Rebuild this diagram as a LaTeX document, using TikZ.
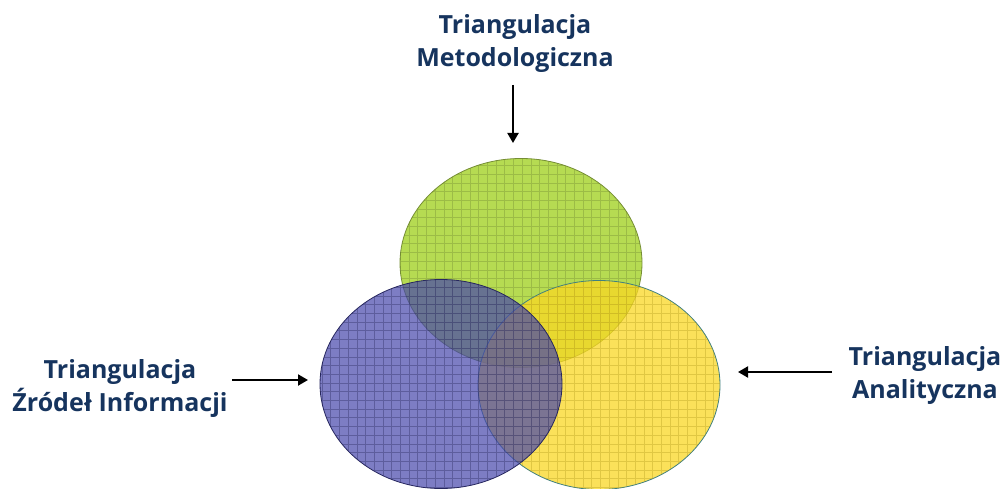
\documentclass[tikz,border=0pt]{standalone}
\usepackage{fontspec}
\setmainfont{Open Sans}
\usetikzlibrary{shapes.geometric,arrows.meta}
\definecolor{navy}{RGB}{22,52,94}
\definecolor{gfill}{RGB}{182,219,82}
\definecolor{bfill}{RGB}{70,70,172}
\definecolor{yfill}{RGB}{250,216,36}
\tikzset{
  lbl/.style={text=navy,font=\fontsize{25}{33}\selectfont\bfseries,align=center,inner sep=0pt},
  blob/.style={ellipse,draw,line width=0.8pt,inner sep=0pt,minimum width=242pt,minimum height=209pt},
  gridlines/.style={line width=0.35pt,opacity=0.35},
  arr/.style={-{Triangle[length=10pt,width=11pt]},line width=2pt,black}
}
\begin{document}
\begin{tikzpicture}[x=1pt,y=-1pt]
\useasboundingbox (0,0) rectangle (1003,489);
\fill[white] (0,0) rectangle (1003,489);
\node[blob,fill=gfill,draw=gfill!65!black] (green) at (521,263) {};
\begin{scope}
\clip (521,263) ellipse [x radius=121pt,y radius=104.5pt];
\draw[gridlines,draw=gfill!60!black,step=8.7pt] (390,150) grid (650,380);
\end{scope}
\node[blob,fill=yfill,fill opacity=0.75,draw=teal!50!gray] (yellow) at (599,385) {};
\begin{scope}
\clip (599,385) ellipse [x radius=121pt,y radius=104.5pt];
\draw[gridlines,draw=yfill!70!black,step=8.7pt] (470,270) grid (730,500);
\end{scope}
\node[blob,fill=bfill,fill opacity=0.7,draw=bfill!55!black] (blue) at (441,384) {};
\begin{scope}
\clip (441,384) ellipse [x radius=121pt,y radius=104.5pt];
\draw[gridlines,draw=bfill!50!black,step=8.7pt] (310,270) grid (570,500);
\end{scope}
\node[lbl] (top) at (515,44) {Triangulacja\\Metodologiczna};
\node[lbl] (left) at (120,389) {Triangulacja\\Źródeł Informacji};
\node[lbl] (right) at (925,376) {Triangulacja\\Analityczna};
\coordinate (ta) at (513,85);
\coordinate (tb) at (513,143);
\coordinate (la) at (232,380);
\coordinate (lb) at (308,380);
\coordinate (ra) at (832,372);
\coordinate (rb) at (738,372);
\draw[arr] (ta) -- (tb);
\draw[arr] (la) -- (lb);
\draw[arr] (ra) -- (rb);
\end{tikzpicture}
\end{document}
